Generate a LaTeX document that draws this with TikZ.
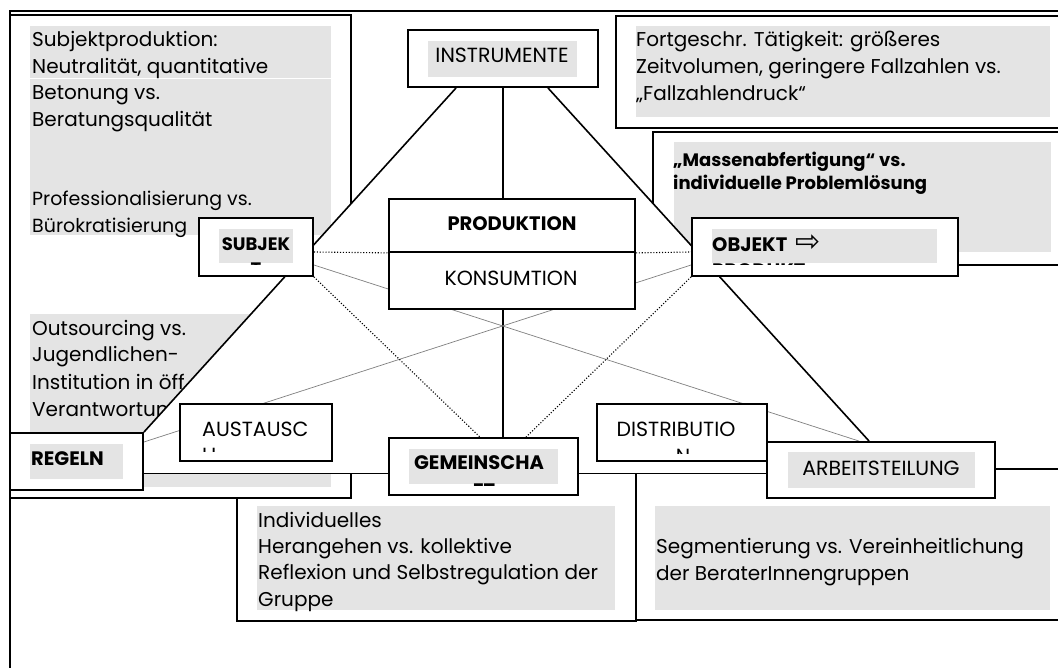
\documentclass[tikz,border=0pt]{standalone}
\usepackage{fontspec}
\setmainfont{Poppins}
\newfontfamily\symfont{DejaVu Sans}
\pgfdeclarelayer{panels}
\pgfdeclarelayer{links}
\pgfsetlayers{panels,links,main}
\definecolor{shade}{HTML}{E4E4E4}
\definecolor{faintline}{HTML}{808080}
\newcommand\bodyfont{\fontsize{20}{26}\selectfont}
\newcommand\notefont{\fontsize{18}{23}\selectfont\bfseries}
\newcommand\capfont{\fontsize{20.5}{26}\selectfont}
\newcommand\capbfont{\fontsize{19.5}{26}\selectfont\bfseries}
\begin{document}
\begin{tikzpicture}[x=1pt,y=-1pt,
  panel/.style={draw=black,fill=white,line width=1.8pt},
  shadefill/.style={fill=shade},
  box/.style={draw=black,fill=white,line width=1.8pt,inner sep=0pt,rectangle},
  greybox/.style={fill=shade,inner sep=0pt,rectangle},
  leg/.style={draw=black,line width=1.6pt},
  faint/.style={draw=faintline,line width=0.7pt},
  dots/.style={draw=black,line width=1.1pt,dash pattern=on 1.1pt off 1.8pt},
  txt/.style={inner sep=0pt,anchor=base west,font=\bodyfont},
  note/.style={inner sep=0pt,anchor=base west,font=\notefont},
  captxt/.style={inner sep=0pt,anchor=base,font=\capfont},
  capbtxt/.style={inner sep=0pt,anchor=base,font=\capbfont},
]
\useasboundingbox (0,0) rectangle (1058,668);

% ---------- main boxes of the activity triangle ----------
\node[box,minimum width=190pt,minimum height=57pt] (instr) at (503,58.5) {};
\node[greybox,minimum width=149pt,minimum height=36pt] (instrg) at (502.5,59) {};
\node[captxt] (instrt) at (502,63) {INSTRUMENTE};

\node[box,minimum width=246pt,minimum height=53pt] (prod) at (512,225.5) {};
\node[capbtxt] (prodt) at (512,231) {PRODUKTION};
\node[box,minimum width=246pt,minimum height=57pt] (kons) at (512,280.5) {};
\node[captxt] (konst) at (511,286) {KONSUMTION};

\node[box,minimum width=114pt,minimum height=58pt] (subj) at (256,247) {};
\node[greybox,minimum width=74pt,minimum height=34pt] (subjg) at (256,246) {};
\begin{scope}
  \clip (219,229) rectangle (293,264.5);
  \node[capbtxt,font=\fontsize{18}{26}\selectfont\bfseries] (subjt) at (256,251) {SUBJEK};
  \node[capbtxt,font=\fontsize{18}{26}\selectfont\bfseries] (subjt2) at (256,276) {T};
\end{scope}

\node[box,minimum width=266pt,minimum height=58pt] (obj) at (825,247) {};
\node[greybox,minimum width=225pt,minimum height=34pt] (objg) at (824.5,246) {};
\begin{scope}
  \clip (712,229) rectangle (937,264.5);
  \node[capbtxt,anchor=base west] (objt) at (712,252)
    {OBJEKT\hspace{8pt}{\mdseries\symfont\fontsize{30}{30}\selectfont ⇨}};
  \node[capbtxt,anchor=base west] (objt2) at (712,277.5) {PRODUKT};
\end{scope}

\node[box,minimum width=133pt,minimum height=57pt] (regeln) at (76.5,461.5) {};
\node[greybox,minimum width=93pt,minimum height=35pt] (regelng) at (76.5,461.5) {};
\node[capbtxt,anchor=base west] (regelnt) at (31,465) {REGELN};

\node[box,minimum width=152pt,minimum height=57pt] (aust) at (256,432.5) {};
\begin{scope}
  \clip (190,412) rectangle (322,451);
  \node[captxt,anchor=base west] (austt) at (202,436) {AUSTAUSC};
  \node[captxt,anchor=base west] (austt2) at (202,462) {H};
\end{scope}

\node[box,minimum width=189pt,minimum height=57pt] (gemein) at (483.5,466.5) {};
\node[greybox,minimum width=149pt,minimum height=35pt] (gemeing) at (483.5,466.5) {};
\begin{scope}
  \clip (409,449) rectangle (558,485.5);
  \node[capbtxt] (gemeint) at (479,469) {GEMEINSCHA};
  \node[capbtxt] (gemeint2) at (484,497) {FT};
\end{scope}

\node[box,minimum width=170pt,minimum height=57pt] (distr) at (682,432.5) {};
\begin{scope}
  \clip (605,412) rectangle (760,453);
  \node[captxt] (distrt) at (676,436) {DISTRIBUTIO};
  \node[captxt] (distrt2) at (683,463) {N};
\end{scope}

\node[box,minimum width=228pt,minimum height=56pt] (arbeit) at (881,470) {};
\node[greybox,minimum width=187pt,minimum height=36pt] (arbeitg) at (881.5,470) {};
\node[captxt] (arbeitt) at (881,475) {ARBEITSTEILUNG};

% ---------- triangle, its legs and cross links ----------
\begin{pgfonlayer}{links}
  \fill[white] ([xshift=49pt]instr.south west) -- (regeln.north east)
    -- ([yshift=-12pt]regeln.east) -- ([yshift=-3.5pt]arbeit.west)
    -- ([xshift=103pt]arbeit.north west) -- ([xshift=-51pt]instr.south east) -- cycle;
  \draw[leg] ([xshift=49pt]instr.south west) -- (regeln.north east);
  \draw[leg] ([xshift=-51pt]instr.south east) -- ([xshift=103pt]arbeit.north west);
  \draw[leg] (instr.south) -- (instr.south |- prod.north);
  \draw[leg] (instr.south |- kons.south) -- (instr.south |- gemein.north);
  \draw[leg] ([yshift=-12pt]regeln.east) -- ([yshift=-7pt]gemein.west);
  \draw[leg] ([yshift=-7pt]gemein.east) -- ([yshift=-3.5pt]arbeit.west);
  \draw[faint] ([yshift=-18pt]subj.east) -- ([xshift=93pt]arbeit.north west);
  \draw[faint] ([yshift=-18pt]obj.west) -- ([yshift=19.5pt]regeln.east);
  \draw[dots] ([yshift=-5pt]subj.east) -- (prod.south west);
  \draw[dots] (prod.south east) -- ([yshift=-5pt]obj.west);
  \draw[dots] (subj.south east) -- ([xshift=-3.5pt]gemein.north);
  \draw[dots] (obj.south west) -- ([xshift=42.5pt]gemein.north);
\end{pgfonlayer}

% ---------- surrounding text panels ----------
\begin{pgfonlayer}{panels}
  \draw[line width=1.8pt] (10,680) -- (10,11) -- (1070,11);

  \draw[panel] (616,16) rectangle (1075,128);
  \fill[shadefill] (636,26) rectangle (1050,117);
  \node[txt] (f1) at (636,47) {Fortgeschr. Tätigkeit: größeres};
  \node[txt] (f2) at (636,74) {Zeitvolumen, geringere Fallzahlen vs.};
  \node[txt] (f3) at (636,101) {„Fallzahlendruck“};

  \draw[panel] (653,132) rectangle (1075,265);
  \fill[shadefill] (674,142) rectangle (1051,252);
  \node[note] (m1) at (673,167) {„Massenabfertigung“ vs.};
  \node[note] (m2) at (673,190) {individuelle Problemlösung};

  \draw[panel] (237,473.5) rectangle (636,621);
  \fill[shadefill] (257,506) rectangle (615,610);
  \node[txt] (i1) at (258,527.5) {Individuelles};
  \node[txt] (i2) at (258,553) {Herangehen vs. kollektive};
  \node[txt] (i3) at (258,579.5) {Reflexion und Selbstregulation der};
  \node[txt] (i4) at (258,606) {Gruppe};

  \draw[panel] (636,469) rectangle (1075,620);
  \fill[shadefill] (655,506) rectangle (1050,610);
  \node[txt] (s1) at (656,553) {Segmentierung vs. Vereinheitlichung};
  \node[txt] (s2) at (656,580) {der BeraterInnengruppen};

  \draw[panel] (10,15) rectangle (351,498);
  \fill[shadefill] (30,26) rectangle (331,78);
  \fill[shadefill] (30,79.5) rectangle (331,235);
  \node[txt] (l1) at (32,47) {Subjektproduktion:};
  \node[txt] (l2) at (32,73.5) {Neutralität, quantitative};
  \node[txt] (l3) at (32,100) {Betonung vs.};
  \node[txt] (l4) at (32,126.5) {Beratungsqualität};
  \node[txt,font=\fontsize{19}{26}\selectfont] (l5) at (32,206) {Professionalisierung vs.};
  \node[txt,font=\fontsize{19}{26}\selectfont] (l6) at (32,232.5) {Bürokratisierung};
  \fill[shadefill] (30,314) rectangle (331,487);
  \node[txt] (o1) at (32,336) {Outsourcing vs.};
  \node[txt] (o2) at (32,362) {Jugendlichen-};
  \node[txt] (o3) at (32,389) {Institution in öff};
  \node[txt] (o4) at (32,416) {Verantwortun};
\end{pgfonlayer}
\end{tikzpicture}
\end{document}
